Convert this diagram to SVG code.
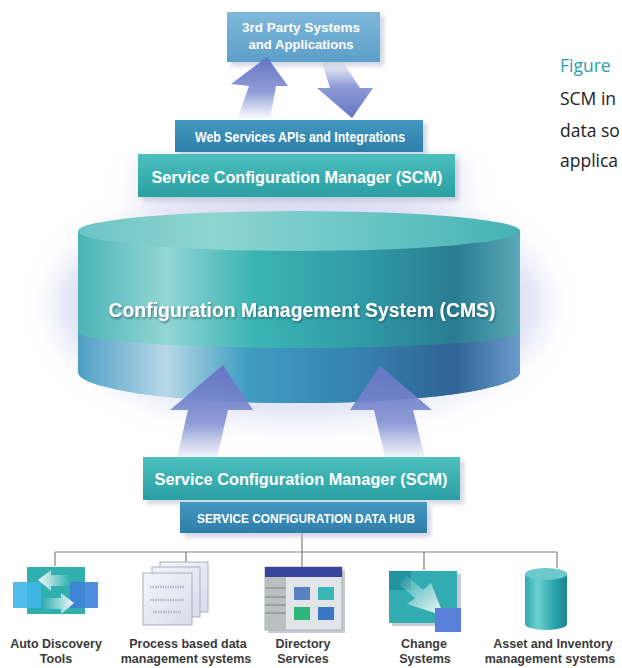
<svg xmlns="http://www.w3.org/2000/svg" width="622" height="668" viewBox="0 0 622 668">
<defs>
<style>
.lbl{font-family:"Liberation Sans",Arial,sans-serif;font-weight:bold;font-size:12.5px;fill:#3a3a3a;text-anchor:middle}
.wt{font-family:"Liberation Sans",Arial,sans-serif;font-weight:bold;fill:#fff;text-anchor:middle}
.side{font-family:"Open Sans","Noto Sans",sans-serif;font-size:17.5px;fill:#222}
.conn{stroke:#808080;stroke-width:1.2;fill:none}
.shadow{fill:#b8bccf;opacity:.6}
</style>
<filter id="blur" x="-20%" y="-20%" width="140%" height="140%"><feGaussianBlur stdDeviation="14"/></filter>
<filter id="sblur" x="-10%" y="-10%" width="120%" height="140%"><feGaussianBlur stdDeviation="2"/></filter>
<filter id="ds" x="-5%" y="-20%" width="110%" height="150%"><feDropShadow dx="1" dy="1.5" stdDeviation="1" flood-color="#1c4f5a" flood-opacity=".7"/></filter>
<linearGradient id="gThird" x1="0" y1="0" x2="0" y2="1"><stop offset="0" stop-color="#80b9dc"/><stop offset="1" stop-color="#5c9ec9"/></linearGradient>
<linearGradient id="gWeb" x1="0" y1="0" x2="0" y2="1"><stop offset="0" stop-color="#4398bf"/><stop offset="1" stop-color="#2f7eaa"/></linearGradient>
<linearGradient id="gScm" x1="0" y1="0" x2="0" y2="1"><stop offset="0" stop-color="#4cc0bd"/><stop offset="1" stop-color="#2a9fa3"/></linearGradient>
<linearGradient id="gTop" x1="0" y1="0" x2="1" y2="0"><stop offset="0" stop-color="#6cc4c4"/><stop offset=".3" stop-color="#8ed5d2"/><stop offset=".7" stop-color="#63c3c2"/><stop offset="1" stop-color="#46b2b4"/></linearGradient>
<linearGradient id="gBody" x1="78" y1="0" x2="520" y2="0" gradientUnits="userSpaceOnUse"><stop offset="0" stop-color="#4cb3b6"/><stop offset=".2" stop-color="#92d6d4"/><stop offset=".4" stop-color="#3bb3b3"/><stop offset=".65" stop-color="#2f9aa6"/><stop offset=".85" stop-color="#2a7b92"/><stop offset="1" stop-color="#5aa9b8"/></linearGradient>
<linearGradient id="gBand" x1="78" y1="0" x2="520" y2="0" gradientUnits="userSpaceOnUse"><stop offset="0" stop-color="#4f9ec6"/><stop offset=".2" stop-color="#b7d8e6"/><stop offset=".38" stop-color="#3f9dc2"/><stop offset=".65" stop-color="#367fae"/><stop offset=".85" stop-color="#2f6395"/><stop offset="1" stop-color="#6b9bc9"/></linearGradient>
<linearGradient id="aUp1" x1="0" y1="120" x2="0" y2="57" gradientUnits="userSpaceOnUse"><stop offset="0" stop-color="#8a98d4" stop-opacity="0"/><stop offset=".45" stop-color="#7b8bd0" stop-opacity=".85"/><stop offset="1" stop-color="#6373c2"/></linearGradient>
<linearGradient id="aDown" x1="0" y1="60" x2="0" y2="118" gradientUnits="userSpaceOnUse"><stop offset="0" stop-color="#8a98d4" stop-opacity="0"/><stop offset=".45" stop-color="#7b8bd0" stop-opacity=".85"/><stop offset="1" stop-color="#6373c2"/></linearGradient>
<linearGradient id="aUp2" x1="0" y1="462" x2="0" y2="365" gradientUnits="userSpaceOnUse"><stop offset="0" stop-color="#8a98d4" stop-opacity="0"/><stop offset=".4" stop-color="#7b8bd0" stop-opacity=".85"/><stop offset="1" stop-color="#6676c4"/></linearGradient>
<linearGradient id="gAsset" x1="0" y1="0" x2="1" y2="0"><stop offset="0" stop-color="#2fa9b0"/><stop offset=".3" stop-color="#6cd0d0"/><stop offset=".7" stop-color="#2aa3aa"/><stop offset="1" stop-color="#1f8290"/></linearGradient>
<linearGradient id="gWhiteL" x1="1" y1="0" x2="0" y2="0"><stop offset="0" stop-color="#fff" stop-opacity="0"/><stop offset="1" stop-color="#fff" stop-opacity=".95"/></linearGradient>
<linearGradient id="gWhiteR" x1="0" y1="0" x2="1" y2="0"><stop offset="0" stop-color="#fff" stop-opacity="0"/><stop offset="1" stop-color="#fff" stop-opacity=".95"/></linearGradient>
<linearGradient id="gWhiteD" x1="0" y1="0" x2="1" y2="1"><stop offset="0" stop-color="#fff" stop-opacity="0"/><stop offset="1" stop-color="#fff" stop-opacity=".95"/></linearGradient>
<linearGradient id="gPage" x1="0" y1="0" x2="1" y2="1"><stop offset="0" stop-color="#f4f5fa"/><stop offset="1" stop-color="#d9dcea"/></linearGradient>
</defs>
<rect width="622" height="668" fill="#fff"/>

<!-- side text -->
<g id="caption">
<text x="560" y="72" class="side" style="fill:#2aa0a8">Figure</text>
<text x="560" y="105" class="side">SCM in</text>
<text x="560" y="137" class="side">data so</text>
<text x="560" y="167" class="side">applica</text>
</g>

<!-- halo -->
<ellipse cx="300" cy="305" rx="245" ry="115" fill="#c4c7ea" opacity=".55" filter="url(#blur)"/>
<rect x="140" y="160" width="320" height="45" fill="#c4c7ea" opacity=".5" filter="url(#blur)"/>

<!-- CMS cylinder -->
<g id="cms">
<path d="M78,231 L78,372 A221,31 0 0 0 520,372 L520,231 Z" fill="url(#gBody)"/>
<path d="M78,332 A221,16 0 0 0 520,332 L520,372 A221,31 0 0 1 78,372 Z" fill="url(#gBand)"/>
<ellipse cx="299" cy="231" rx="221" ry="20" fill="url(#gTop)"/>
<text x="302" y="317" class="wt" font-size="20" textLength="387" lengthAdjust="spacingAndGlyphs" filter="url(#ds)">Configuration Management System (CMS)</text>
</g>

<!-- top structure -->
<g id="third-party">
<rect x="231" y="16" width="153" height="50" class="shadow" filter="url(#sblur)"/>
<rect x="227" y="12" width="153" height="50" fill="url(#gThird)"/>
<text x="301" y="32" class="wt" font-size="13" textLength="118" lengthAdjust="spacingAndGlyphs">3rd Party Systems</text>
<text x="301" y="49" class="wt" font-size="13" textLength="105" lengthAdjust="spacingAndGlyphs">and Applications</text>
</g>

<g id="connectors">
<polygon points="267,57 288,86 276,86 270,120 237,120 249,86 231,84" fill="url(#aUp1)"/>
<polygon points="322,62 343,62 360,88 373,88 352,118 317,88 330,88" fill="url(#aDown)"/>
<polygon points="223,365 253,410 228,410 216,462 176,462 188,410 170,410" fill="url(#aUp2)"/>
<polygon points="380,366 432,410 413,410 426,462 386,462 374,410 350,410" fill="url(#aUp2)"/>
<path class="conn" d="M302,533 V552 M55,552 H557 M55,552 V566 M186,552 V562 M302,552 V567 M424,552 V570 M557,552 V568"/>
</g>

<g id="web-services">
<rect x="179" y="124" width="248" height="32" class="shadow" filter="url(#sblur)"/>
<rect x="175" y="120" width="248" height="32" fill="url(#gWeb)"/>
<text x="300" y="142" class="wt" font-size="14" textLength="210" lengthAdjust="spacingAndGlyphs">Web Services APIs and Integrations</text>
</g>

<g id="scm-top">
<rect x="142" y="158" width="317" height="43" class="shadow" filter="url(#sblur)"/>
<rect x="138" y="154" width="317" height="43" fill="url(#gScm)"/>
<text x="297" y="183" class="wt" font-size="17" textLength="291" lengthAdjust="spacingAndGlyphs">Service Configuration Manager (SCM)</text>
</g>

<g id="scm-bottom">
<rect x="147" y="461" width="317" height="43" class="shadow" filter="url(#sblur)"/>
<rect x="143" y="457" width="317" height="43" fill="url(#gScm)"/>
<text x="301" y="485" class="wt" font-size="17" textLength="293" lengthAdjust="spacingAndGlyphs">Service Configuration Manager (SCM)</text>
</g>

<g id="data-hub">
<rect x="184" y="506" width="247" height="31" class="shadow" filter="url(#sblur)"/>
<rect x="180" y="502" width="247" height="31" fill="url(#gWeb)"/>
<text x="306" y="523" class="wt" font-size="13.5" textLength="218" lengthAdjust="spacingAndGlyphs">SERVICE CONFIGURATION DATA HUB</text>
</g>

<!-- icons -->
<g id="auto-discovery">
<rect x="27" y="567" width="58" height="47" fill="#2fb0ae"/>
<rect x="13" y="582" width="28" height="26" fill="#3fb6e6" opacity=".9"/>
<rect x="70" y="582" width="28" height="26" fill="#3f7fd8" opacity=".9"/>
<polygon points="38,580 51,570 51,575 70,575 70,586 51,586 51,591" fill="url(#gWhiteL)"/>
<polygon points="74,603 61,593 61,598 43,598 43,609 61,609 61,614" fill="url(#gWhiteR)"/>
<text x="56" y="648" class="lbl">Auto Discovery</text>
<text x="56" y="663" class="lbl">Tools</text>
</g>

<g id="process-based">
<rect x="160" y="562" width="48" height="50" fill="url(#gPage)" stroke="#a9adc4" stroke-width="1"/>
<rect x="152" y="567" width="48" height="50" fill="url(#gPage)" stroke="#a9adc4" stroke-width="1"/>
<rect x="143" y="573" width="49" height="52" fill="url(#gPage)" stroke="#a9adc4" stroke-width="1"/>
<path d="M150,587 H184 M150,600 H184 M153,612 H181" stroke="#b4b8cc" stroke-width="2.5" stroke-dasharray="1.5,1"/>
<text x="188" y="648" class="lbl">Process based data</text>
<text x="186" y="663" class="lbl">management systems</text>
</g>

<g id="directory">
<rect x="268" y="570" width="77" height="63" fill="#c9cbd2"/>
<rect x="265" y="567" width="77" height="63" fill="#e2e5e8" stroke="#a8acb4" stroke-width="1"/>
<rect x="265" y="567" width="77" height="10" fill="#36449a"/>
<rect x="265" y="577" width="21" height="53" fill="#b9c0c0"/>
<path d="M265,588 H286 M265,597 H286 M265,605 H286 M265,613 H286" stroke="#7a8284" stroke-width="1"/>
<rect x="294" y="587" width="16" height="13" fill="#5a80c4"/>
<rect x="318" y="587" width="16" height="13" fill="#3bb6b8"/>
<rect x="294" y="607" width="16" height="13" fill="#2db57a"/>
<rect x="318" y="607" width="16" height="13" fill="#3a76c2"/>
<text x="303" y="648" class="lbl">Directory</text>
<text x="303" y="663" class="lbl">Services</text>
</g>

<g id="change">
<rect x="392" y="574" width="69" height="52" fill="#c8cad6"/>
<rect x="389" y="571" width="68" height="52" fill="#31adb2"/>
<rect x="389" y="571" width="22" height="19" fill="#2293a0"/>
<polygon points="407,576 423,590 431,583 444,616 407,604 415,598 399,584" fill="url(#gWhiteD)"/>
<rect x="435" y="608" width="26" height="24" fill="#5a7fd8"/>
<text x="424" y="648" class="lbl">Change</text>
<text x="425" y="663" class="lbl">Systems</text>
</g>

<g id="asset">
<path d="M525,574 V624 A21,6 0 0 0 567,624 V574 Z" fill="url(#gAsset)"/>
<ellipse cx="546" cy="574" rx="21" ry="6" fill="#6cc9cb"/>
<text x="553" y="648" class="lbl">Asset and Inventory</text>
<text x="550" y="663" class="lbl">management systems</text>
</g>
</svg>
